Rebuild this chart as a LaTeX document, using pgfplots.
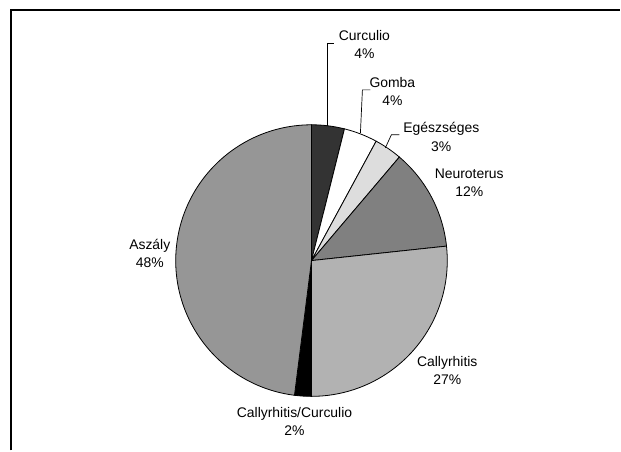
\documentclass[border=0pt]{standalone}
\usepackage{pgfplots}
\usepackage{pgfplotstable}
\pgfplotsset{compat=1.18}
\usepackage{fontspec}
\setmainfont{Liberation Sans}
\definecolor{cCurc}{HTML}{333333}
\definecolor{cGomba}{HTML}{FFFFFF}
\definecolor{cEg}{HTML}{DDDDDD}
\definecolor{cNeuro}{HTML}{808080}
\definecolor{cCally}{HTML}{B2B2B2}
\definecolor{cCC}{HTML}{000000}
\definecolor{cAsz}{HTML}{969696}
\newcommand\labfont{\fontsize{14}{18.5}\selectfont}

% slice share (%), fill colour, label centre (x,y in pixels from top-left)
\pgfplotstableread[col sep=comma]{
label,value,color,lx,ly
Curculio,3.9,cCurc,365,44.5
Gomba,4.0,cGomba,393,91.5
Egészséges,3.3,cEg,442,137
Neuroterus,12.1,cNeuro,470,183
Callyrhitis,26.7,cCally,448,371
Callyrhitis/Curculio,2.0,cCC,295,422
Aszály,48.0,cAsz,150,254
}\piedata

\begin{document}
\begin{tikzpicture}
\pgfplotstablegetrowsof{\piedata}\let\nrows\pgfplotsretval
\pgfmathtruncatemacro\lastrow{\nrows-1}
\def\cum{0}
\gdef\wedges{}
\gdef\labels{}
\pgfplotsforeachungrouped \i in {0,...,\lastrow}{%
  \pgfplotstablegetelem{\i}{value}\of\piedata \let\v\pgfplotsretval
  \pgfplotstablegetelem{\i}{color}\of\piedata \let\c\pgfplotsretval
  \pgfplotstablegetelem{\i}{label}\of\piedata \let\lab\pgfplotsretval
  \pgfplotstablegetelem{\i}{lx}\of\piedata \let\lx\pgfplotsretval
  \pgfplotstablegetelem{\i}{ly}\of\piedata \let\ly\pgfplotsretval
  \pgfmathsetmacro\sa{90-3.6*\cum}
  \pgfmathsetmacro\ea{90-3.6*(\cum+\v)}
  \pgfmathsetmacro\cum{\cum+\v}
  \pgfmathtruncatemacro\p{round(\v)}
  \xdef\wedges{\unexpanded\expandafter{\wedges}%
    \noexpand\filldraw[fill=\c, draw=black, line width=0.8bp]
      (axis cs:312,261) -- ++(\sa:136bp) arc[start angle=\sa, end angle=\ea, radius=136bp] -- cycle;}
  \xdef\labels{\unexpanded\expandafter{\labels}%
    \noexpand\node[align=center, font=\noexpand\labfont, inner sep=0pt]
      at (axis cs:\lx,\ly) {\lab\noexpand\\\p\noexpand\%};}
}
\begin{axis}[hide axis, x=1bp, y=1bp, xmin=0, xmax=621, ymin=0, ymax=451,
  y dir=reverse, clip=false, scale only axis]
  \path (axis cs:0,0) rectangle (axis cs:621,451);
  \wedges
  \labels
  % leader lines
  \draw[line width=0.7bp] (axis cs:328,126) -- (axis cs:328,43) -- (axis cs:335,43);
  \draw[line width=0.7bp] (axis cs:361,133) -- (axis cs:363,90) -- (axis cs:371,90);
  \draw[line width=0.7bp] (axis cs:386,148) -- (axis cs:392,135) -- (axis cs:400,135);
  % chart area border (only top and left visible)
  \draw[line width=2bp] (axis cs:11,451) -- (axis cs:11,10) -- (axis cs:621,10);
\end{axis}
\end{tikzpicture}
\end{document}
